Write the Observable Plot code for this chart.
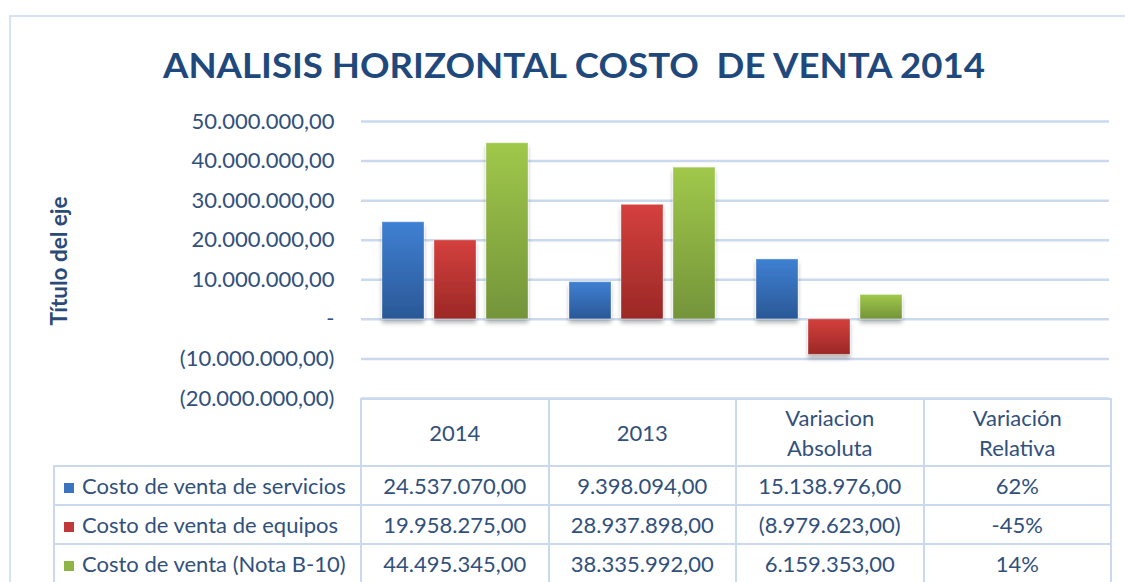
<!DOCTYPE html>
<html>
<head>
<meta charset="utf-8">
<script src="https://cdn.jsdelivr.net/npm/d3@7"></script>
<script src="https://cdn.jsdelivr.net/npm/@observablehq/plot@0.6"></script>
<style>
  html, body { margin: 0; padding: 0; background: #fff; }
  #wrap { position: relative; width: 1125px; height: 582px; overflow: hidden; background: #fff; font-family: Lato, "Open Sans", sans-serif; }
  #frame { position: absolute; left: 9px; top: 15px; width: 1200px; height: 700px; border: 2px solid #d6e3f3; box-sizing: border-box; }
  #title { position: absolute; left: 0; top: 0; }
  #ylabel { position: absolute; left: 58px; top: 261px; transform: translate(-50%, -50%) rotate(-90deg); white-space: nowrap; font-weight: bold; font-size: 22.5px; color: #2a4a78; }
  #chart { position: absolute; left: 0; top: 0; }
  #tbl { position: absolute; left: 53px; top: 398px; border-collapse: collapse; table-layout: fixed; font-size: 22px; color: #31507c; }
  #tbl td { border: 2px solid #cad9ee; text-align: center; padding: 0; white-space: nowrap; overflow: hidden; }
  #tbl tr.head td { height: 65px; line-height: 30px; }
  #tbl tr.body td { height: 37px; line-height: 24px; }
  #tbl td.lab { text-align: left; padding-left: 9px; }
  #tbl td.blank { border: none; }
  .sw { display: inline-block; width: 10px; height: 10px; margin-right: 8px; vertical-align: 1px; }
</style>
</head>
<body>
<div id="wrap">
  <div id="frame"></div>
  <svg id="title" width="1125" height="110"></svg>
  <div id="ylabel"></div>
  <div id="chart"></div>
  <table id="tbl"></table>
</div>
<script>
// ---- data ----
const titleText = "ANALISIS HORIZONTAL COSTO  DE VENTA 2014";
const yAxisTitle = "Título del eje";
const categories = ["2014", "2013", "Variacion Absoluta", "Variación Relativa"];
const series = ["Costo de venta de servicios", "Costo de venta de equipos", "Costo de venta (Nota B-10)"];
const values2014 = [24537070, 19958275, 44495345];
const values2013 = [9398094, 28937898, 38335992];
const variacionAbsoluta = [15138976, -8979623, 6159353];
const variacionRelativa = [0.62, -0.45, 0.14];
const yTicks = [-20000000, -10000000, 0, 10000000, 20000000, 30000000, 40000000, 50000000];
const seriesTop = ["#3f80d3", "#d4403d", "#a0c84a"];
const seriesBottom = ["#2a5896", "#9b2826", "#74943a"];
const seriesSwatch = ["#3a74c0", "#c0393a", "#8db444"];

// ---- formatters ----
function fmtNum(v) {
  if (v === 0) return "-";
  const s = d3.format(",.2f")(Math.abs(v)).replace(/,/g, "#").replace(".", ",").replace(/#/g, ".");
  return v < 0 ? "(" + s + ")" : s;
}
function fmtPct(v) { return Math.round(v * 100) + "%"; }

const columns = [values2014, values2013, variacionAbsoluta, variacionRelativa];
const data = categories.flatMap((c, i) => series.map((s, j) => ({ category: c, series: s, value: columns[i][j] })));

// ---- title ----
const tsvg = d3.select("#title");
tsvg.append("text")
  .attr("x", 574).attr("y", 78)
  .attr("text-anchor", "middle")
  .attr("font-family", "Lato, 'Open Sans', sans-serif")
  .attr("font-weight", "bold")
  .attr("font-size", 34)
  .attr("fill", "#1f497d")
  .attr("textLength", 822)
  .attr("lengthAdjust", "spacingAndGlyphs")
  .style("white-space", "pre")
  .text(titleText);

d3.select("#ylabel").text(yAxisTitle);

// ---- chart ----
const chart = Plot.plot({
  width: 1125,
  height: 400,
  marginLeft: 360,
  marginRight: 15,
  marginTop: 121,
  marginBottom: 2,
  style: { fontFamily: "Lato, 'Open Sans', sans-serif", fontSize: "22px", color: "#31507c", background: "transparent", overflow: "visible" },
  facet: { data, x: "category" },
  fx: { domain: categories, padding: 0, axis: null, label: null },
  x: { domain: series, axis: null, paddingInner: 0.2, paddingOuter: 0.37 },
  y: { domain: [-20000000, 50000000], ticks: 7, tickFormat: fmtNum, tickSize: 0, tickPadding: 27, label: null },
  color: { domain: series, range: series.map((s, i) => `url(#grad${i})`) },
  marks: [
    Plot.ruleY(yTicks, { stroke: "#cad9ee", strokeWidth: 2.5 }),
    Plot.barY(data, { x: "series", y: "value", fill: "series", stroke: "#ffffff", strokeOpacity: 0.35, strokeWidth: 1 })
  ]
});

const svg = d3.select(chart);
const defs = svg.insert("defs", ":first-child");
series.forEach((s, i) => {
  const g = defs.append("linearGradient").attr("id", `grad${i}`).attr("x1", 0).attr("y1", 0).attr("x2", 0).attr("y2", 1);
  g.append("stop").attr("offset", "0%").attr("stop-color", seriesTop[i]);
  g.append("stop").attr("offset", "100%").attr("stop-color", seriesBottom[i]);
});
const f = defs.append("filter").attr("id", "shadow").attr("x", "-20%").attr("y", "-20%").attr("width", "140%").attr("height", "160%");
f.append("feDropShadow").attr("dx", 0).attr("dy", 4).attr("stdDeviation", 2.2).attr("flood-color", "#000").attr("flood-opacity", 0.28);
svg.selectAll('g[aria-label="bar"] rect').attr("filter", "url(#shadow)");

document.getElementById("chart").appendChild(chart);

// ---- table ----
const tbl = d3.select("#tbl");
const cg = tbl.append("colgroup");
cg.append("col").style("width", "307px");
categories.forEach(() => cg.append("col").style("width", "187.5px"));
const head = tbl.append("tr").attr("class", "head");
head.append("td").attr("class", "blank");
categories.forEach(c => head.append("td").html(c.split(" ").join("<br>")));
series.forEach((s, j) => {
  const tr = tbl.append("tr").attr("class", "body");
  const lab = tr.append("td").attr("class", "lab");
  lab.append("span").attr("class", "sw").style("background", seriesSwatch[j]);
  lab.append("span").text(s);
  tr.append("td").text(fmtNum(values2014[j]));
  tr.append("td").text(fmtNum(values2013[j]));
  tr.append("td").text(fmtNum(variacionAbsoluta[j]));
  tr.append("td").text(fmtPct(variacionRelativa[j]));
});
</script>
</body>
</html>
